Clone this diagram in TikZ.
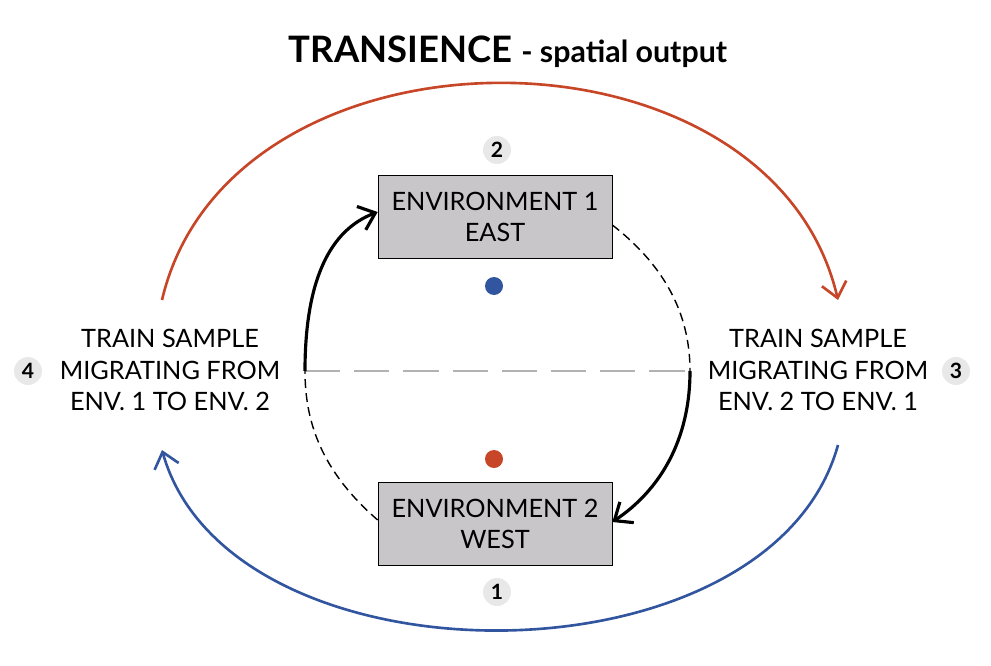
\documentclass[tikz,border=0pt]{standalone}
\usepackage{fontspec}
\setmainfont{Lato}
\usetikzlibrary{positioning, arrows.meta}
\definecolor{boxgray}{RGB}{200,198,200}
\definecolor{arcred}{RGB}{200,70,40}
\definecolor{arcblue}{RGB}{50,85,160}
\definecolor{numgray}{RGB}{232,232,232}
\tikzset{
  envbox/.style={draw=black, fill=boxgray, minimum width=4.68cm, minimum height=1.66cm, align=center, font=\Large, inner sep=0pt},
  side/.style={align=center, font=\Large},
  num/.style={circle, fill=numgray, minimum size=0.56cm, inner sep=0pt, font=\large\bfseries},
  tip/.style={-{Straight Barb[length=3mm,width=5mm]}},
  thin dash/.style={dash pattern=on 5pt off 3pt, line width=0.8pt}
}
\begin{document}
\begin{tikzpicture}[x=0.02cm,y=-0.02cm]
\useasboundingbox (0,0) rectangle (991,666);
\node(title) at (508,52) {\textbf{\huge TRANSIENCE \LARGE - spatial output}};
\node(env1)[envbox] at (495,217) {ENVIRONMENT 1\\EAST};
\node(env2)[envbox] at (495,524) {ENVIRONMENT 2\\WEST};
\fill[arcblue] (494,286) circle (9);
\fill[arcred] (494,459) circle (9);
\node(left)[side] at (170,370) {TRAIN SAMPLE\\MIGRATING FROM\\ENV. 1 TO ENV. 2};
\node(right)[side] at (818,370) {TRAIN SAMPLE\\MIGRATING FROM\\ENV. 2 TO ENV. 1};
\node(n1)[num] at (497,592) {1};
\node(n2)[num] at (497,150) {2};
\node(n3)[num] at (956,371) {3};
\node(n4)[num] at (28,371) {4};
\coordinate(lm) at (305,371);
\coordinate(rm) at (690,371);
\draw[gray!60, dash pattern=on 20pt off 8pt, line width=1pt] (lm) -- (rm);
% outer arcs
\draw[arcred, line width=1.5pt, tip] (162,300) .. controls (230,11) and (770,11) .. (838,300);
\draw[arcblue, line width=1.5pt, tip] (838,445) .. controls (770,691) and (230,691) .. (162,450);
% inner arcs
\draw[line width=1.8pt, tip] (lm) .. controls (305,280) and (330,230) .. (env1.west |- 0,212);
\draw[thin dash] (env2.west |- 0,520) .. controls (320,470) and (305,420) .. (lm);
\draw[thin dash] (env1.east |- 0,225) .. controls (670,270) and (690,320) .. (rm);
\draw[line width=1.8pt, tip] (rm) .. controls (690,440) and (660,490) .. (env2.east |- 0,522);
\end{tikzpicture}
\end{document}
